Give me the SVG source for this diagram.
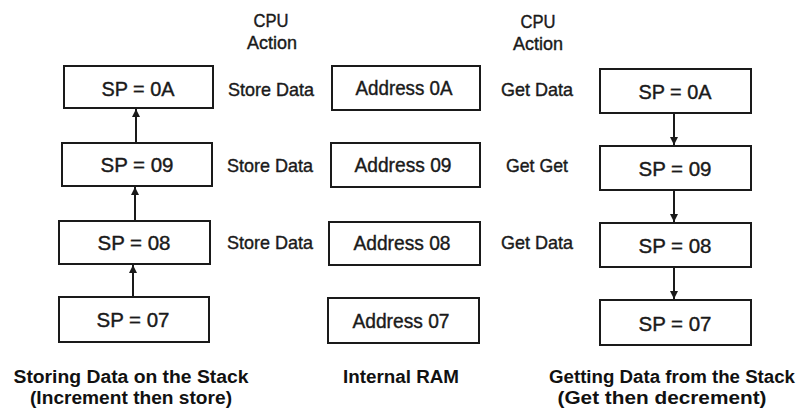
<svg xmlns="http://www.w3.org/2000/svg" width="804" height="411" viewBox="0 0 804 411">
  <style>
    .box { fill: #fff; stroke: #1a1a1a; stroke-width: 2; }
    .lbl { font-family: "Liberation Sans", Arial, sans-serif; font-size: 20px; fill: #1a1a1a; stroke: #1a1a1a; stroke-width: 0.4; text-anchor: middle; }
    .act { font-family: "Liberation Sans", Arial, sans-serif; font-size: 19px; fill: #1a1a1a; stroke: #1a1a1a; stroke-width: 0.4; text-anchor: middle; }
    .hdr { font-family: "Liberation Sans", Arial, sans-serif; font-size: 18px; fill: #1a1a1a; stroke: #1a1a1a; stroke-width: 0.4; text-anchor: middle; }
    .cap { font-family: "Liberation Sans", Arial, sans-serif; font-size: 18px; font-weight: bold; fill: #111; text-anchor: middle; }
    .edge { stroke: #1a1a1a; stroke-width: 2; fill: none; marker-end: url(#head); }
  </style>
  <defs>
    <marker id="head" viewBox="0 0 10 10" refX="10" refY="5" markerWidth="8" markerHeight="8" markerUnits="userSpaceOnUse" orient="auto">
      <path d="M0,0 L10,5 L0,10 Z" fill="#1a1a1a"/>
    </marker>
  </defs>
  <rect width="804" height="411" fill="#fff"/>

  <!-- column headings -->
  <g id="hdr-store">
    <text class="hdr" x="271" y="27" textLength="35" lengthAdjust="spacingAndGlyphs">CPU</text>
    <text class="hdr" x="272" y="49" textLength="50" lengthAdjust="spacingAndGlyphs">Action</text>
  </g>
  <g id="hdr-get">
    <text class="hdr" x="538" y="28" textLength="35" lengthAdjust="spacingAndGlyphs">CPU</text>
    <text class="hdr" x="538" y="50" textLength="50" lengthAdjust="spacingAndGlyphs">Action</text>
  </g>

  <!-- storing stack pointer -->
  <g id="s-0A"><rect class="box" x="64" y="66" width="149" height="42"/><text class="lbl" x="138" y="96" textLength="73" lengthAdjust="spacingAndGlyphs">SP = 0A</text></g>
  <g id="s-09"><rect class="box" x="62" y="143" width="150" height="43"/><text class="lbl" x="137" y="172" textLength="73" lengthAdjust="spacingAndGlyphs">SP = 09</text></g>
  <g id="s-08"><rect class="box" x="59" y="221" width="151" height="43"/><text class="lbl" x="134" y="250" textLength="73" lengthAdjust="spacingAndGlyphs">SP = 08</text></g>
  <g id="s-07"><rect class="box" x="59" y="297" width="150" height="45"/><text class="lbl" x="133" y="327" textLength="73" lengthAdjust="spacingAndGlyphs">SP = 07</text></g>

  <!-- store actions -->
  <g id="a-store-1"><text class="act" x="271" y="96" textLength="86" lengthAdjust="spacingAndGlyphs">Store Data</text></g>
  <g id="a-store-2"><text class="act" x="270" y="172" textLength="86" lengthAdjust="spacingAndGlyphs">Store Data</text></g>
  <g id="a-store-3"><text class="act" x="270" y="249" textLength="86" lengthAdjust="spacingAndGlyphs">Store Data</text></g>

  <!-- internal RAM -->
  <g id="m-0A"><rect class="box" x="332" y="66" width="148" height="44"/><text class="lbl" x="404" y="95" textLength="97" lengthAdjust="spacingAndGlyphs">Address 0A</text></g>
  <g id="m-09"><rect class="box" x="331" y="143" width="149" height="44"/><text class="lbl" x="403" y="172" textLength="97" lengthAdjust="spacingAndGlyphs">Address 09</text></g>
  <g id="m-08"><rect class="box" x="329" y="222" width="151" height="43"/><text class="lbl" x="402" y="250" textLength="97" lengthAdjust="spacingAndGlyphs">Address 08</text></g>
  <g id="m-07"><rect class="box" x="328" y="298" width="151" height="45"/><text class="lbl" x="401" y="328" textLength="97" lengthAdjust="spacingAndGlyphs">Address 07</text></g>

  <!-- get actions -->
  <g id="a-get-1"><text class="act" x="537" y="96" textLength="72" lengthAdjust="spacingAndGlyphs">Get Data</text></g>
  <g id="a-get-2"><text class="act" x="537" y="172" textLength="62" lengthAdjust="spacingAndGlyphs">Get Get</text></g>
  <g id="a-get-3"><text class="act" x="537" y="249" textLength="72" lengthAdjust="spacingAndGlyphs">Get Data</text></g>

  <!-- getting stack pointer -->
  <g id="g-0A"><rect class="box" x="600" y="69" width="151" height="44"/><text class="lbl" x="675" y="99" textLength="73" lengthAdjust="spacingAndGlyphs">SP = 0A</text></g>
  <g id="g-09"><rect class="box" x="600" y="146" width="151" height="44"/><text class="lbl" x="675" y="176" textLength="73" lengthAdjust="spacingAndGlyphs">SP = 09</text></g>
  <g id="g-08"><rect class="box" x="600" y="223" width="151" height="44"/><text class="lbl" x="675" y="253" textLength="73" lengthAdjust="spacingAndGlyphs">SP = 08</text></g>
  <g id="g-07"><rect class="box" x="600" y="300" width="151" height="45"/><text class="lbl" x="675" y="331" textLength="73" lengthAdjust="spacingAndGlyphs">SP = 07</text></g>

  <!-- connectors -->
  <g id="connectors">
    <line class="edge" x1="136" y1="143" x2="136" y2="109"/>
    <line class="edge" x1="135" y1="221" x2="135" y2="187"/>
    <line class="edge" x1="133" y1="297" x2="133" y2="265"/>
    <line class="edge" x1="674" y1="113" x2="674" y2="145"/>
    <line class="edge" x1="674" y1="190" x2="674" y2="222"/>
    <line class="edge" x1="674" y1="267" x2="674" y2="299"/>
  </g>

  <!-- captions -->
  <g id="cap-store">
    <text class="cap" x="131" y="383" textLength="235" lengthAdjust="spacingAndGlyphs">Storing Data on the Stack</text>
    <text class="cap" x="131" y="404" textLength="202" lengthAdjust="spacingAndGlyphs">(Increment then store)</text>
  </g>
  <g id="cap-ram">
    <text class="cap" x="401" y="383" textLength="116" lengthAdjust="spacingAndGlyphs">Internal RAM</text>
  </g>
  <g id="cap-get">
    <text class="cap" x="672" y="383" textLength="246" lengthAdjust="spacingAndGlyphs">Getting Data from the Stack</text>
    <text class="cap" x="662" y="404" textLength="209" lengthAdjust="spacingAndGlyphs">(Get then decrement)</text>
  </g>
</svg>
